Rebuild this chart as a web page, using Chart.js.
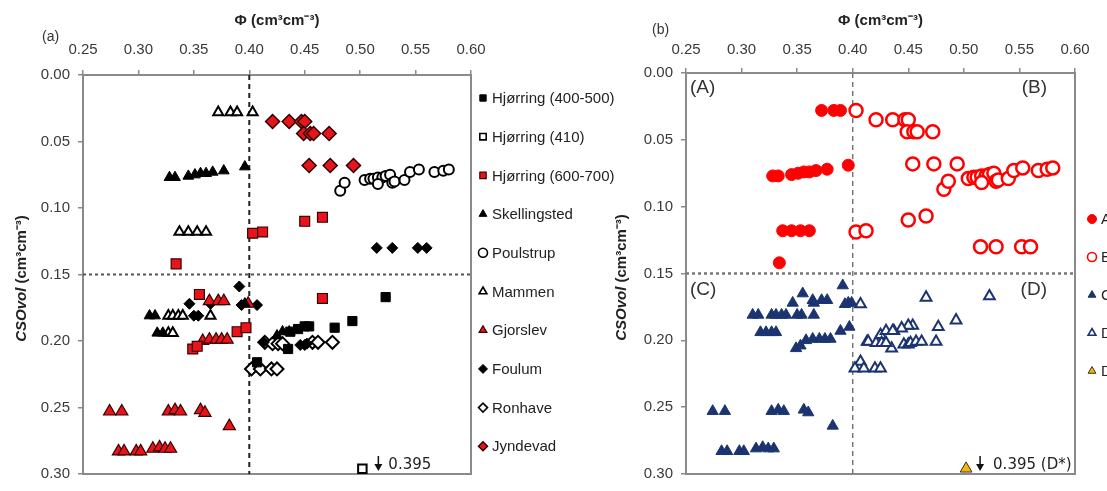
<!DOCTYPE html>
<html>
<head>
<meta charset="utf-8">
<script src="https://cdn.jsdelivr.net/npm/chart.js@4.4.0/dist/chart.umd.min.js"></script>
<style>
  html, body { margin: 0; padding: 0; background: #fff; overflow: hidden; }
  #wrap { position: relative; width: 1107px; height: 491px; }
  #left { position: absolute; left: 0; top: 0; }
  #right { position: absolute; left: 600px; top: 0; }
</style>
</head>
<body>
<div id="wrap">
  <canvas id="left" width="620" height="491"></canvas>
  <canvas id="right" width="507" height="491"></canvas>
</div>
<script>
// Axis ticks
const PHI_TICKS = [0.25, 0.30, 0.35, 0.40, 0.45, 0.50, 0.55, 0.60];
const CSO_TICKS = [0.00, 0.05, 0.10, 0.15, 0.20, 0.25, 0.30];
const PHI_SPLIT = 0.40;   // threshold lines
const CSO_SPLIT = 0.15;
const CSO_CLAMP = 0.296;  // off-scale values sit on the bottom axis

// [porosity, CSOvol] per site
const hjorring400 = [[0.523, 0.167], [0.493, 0.185], [0.477, 0.190], [0.454, 0.189], [0.450, 0.189],
  [0.444, 0.191], [0.437, 0.193], [0.435, 0.206], [0.407, 0.216]];
const hjorring410 = [[0.502, 0.395]];
const hjorring600 = [[0.334, 0.142], [0.403, 0.119], [0.412, 0.118], [0.450, 0.110], [0.466, 0.107],
  [0.355, 0.165], [0.466, 0.168], [0.389, 0.193], [0.397, 0.190], [0.349, 0.206], [0.353, 0.204]];
const skellingsted = [[0.328, 0.077], [0.333, 0.077], [0.345, 0.076], [0.351, 0.075], [0.356, 0.074],
  [0.361, 0.074], [0.367, 0.073], [0.377, 0.072], [0.396, 0.069], [0.310, 0.181], [0.315, 0.181],
  [0.317, 0.194], [0.322, 0.194], [0.396, 0.172], [0.425, 0.196], [0.430, 0.193], [0.436, 0.193]];
const poulstrup = [[0.482, 0.087], [0.486, 0.081], [0.504, 0.079], [0.509, 0.078], [0.512, 0.078],
  [0.516, 0.077], [0.520, 0.077], [0.523, 0.076], [0.527, 0.075], [0.516, 0.082], [0.529, 0.081],
  [0.531, 0.080], [0.540, 0.079], [0.545, 0.073], [0.553, 0.071], [0.567, 0.073], [0.575, 0.072],
  [0.580, 0.071]];
const mammen = [[0.372, 0.028], [0.383, 0.028], [0.389, 0.028], [0.403, 0.028], [0.337, 0.118],
  [0.345, 0.118], [0.353, 0.118], [0.361, 0.118], [0.327, 0.181], [0.331, 0.181], [0.336, 0.181],
  [0.340, 0.181], [0.365, 0.181], [0.327, 0.194], [0.331, 0.194]];
const gjorslev = [[0.364, 0.170], [0.372, 0.170], [0.377, 0.170], [0.399, 0.172], [0.358, 0.200],
  [0.364, 0.199], [0.370, 0.199], [0.375, 0.199], [0.380, 0.199], [0.274, 0.253], [0.285, 0.253],
  [0.327, 0.253], [0.333, 0.252], [0.338, 0.253], [0.356, 0.252], [0.360, 0.254], [0.382, 0.264],
  [0.282, 0.283], [0.287, 0.283], [0.298, 0.283], [0.302, 0.283], [0.313, 0.281], [0.319, 0.280],
  [0.324, 0.281], [0.329, 0.281]];
const foulum = [[0.515, 0.130], [0.529, 0.130], [0.552, 0.130], [0.560, 0.130], [0.391, 0.159],
  [0.346, 0.172], [0.365, 0.172], [0.393, 0.173], [0.407, 0.173], [0.350, 0.181], [0.354, 0.181],
  [0.413, 0.201], [0.446, 0.203], [0.450, 0.203], [0.452, 0.202]];
const ronhave = [[0.414, 0.201], [0.421, 0.202], [0.426, 0.202], [0.430, 0.202], [0.457, 0.201],
  [0.462, 0.201], [0.475, 0.201], [0.402, 0.221], [0.410, 0.221], [0.420, 0.221], [0.425, 0.221]];
const jyndevad = [[0.421, 0.035], [0.436, 0.035], [0.447, 0.035], [0.450, 0.035], [0.449, 0.044],
  [0.455, 0.044], [0.458, 0.044], [0.472, 0.044], [0.454, 0.068], [0.473, 0.068], [0.494, 0.068]];

const SITE_LABELS = ['Hjørring (400-500)', 'Hjørring (410)', 'Hjørring (600-700)', 'Skellingsted',
  'Poulstrup', 'Mammen', 'Gjorslev', 'Foulum', 'Ronhave', 'Jyndevad'];
const SITE_DATA = [hjorring400, hjorring410, hjorring600, skellingsted, poulstrup, mammen,
  gjorslev, foulum, ronhave, jyndevad];

// Pooled points split into the four quadrants
const pooled = [].concat(...SITE_DATA);
const onScale = pooled.filter(p => p[1] <= CSO_TICKS[CSO_TICKS.length - 1]);
const groupA = onScale.filter(p => p[0] < PHI_SPLIT && p[1] < CSO_SPLIT);
const groupB = onScale.filter(p => p[0] >= PHI_SPLIT && p[1] < CSO_SPLIT);
const groupC = onScale.filter(p => p[0] < PHI_SPLIT && p[1] >= CSO_SPLIT);
const groupD = onScale.filter(p => p[0] >= PHI_SPLIT && p[1] >= CSO_SPLIT);
const groupDStar = pooled.filter(p => p[1] > CSO_TICKS[CSO_TICKS.length - 1]);

const RED = '#ff0000';
const NAVY = '#1b3471';
const FONT = "'Liberation Sans', Arial, sans-serif";
Chart.defaults.font.family = FONT;

const toXY = pts => pts.map(([x, y]) => ({ x: x, y: Math.min(y, CSO_CLAMP), raw: y }));

const SITE_STYLES = [
  { pointStyle: 'rect', radius: 6.5, bg: '#000', border: '#000', bw: 1 },
  { pointStyle: 'rect', radius: 6, bg: '#fff', border: '#000', bw: 2 },
  { pointStyle: 'rect', radius: 7, bg: '#e8141b', border: '#3a0000', bw: 1.2 },
  { pointStyle: 'triangle', radius: 6.2, bg: '#000', border: '#000', bw: 1 },
  { pointStyle: 'circle', radius: 5, bg: '#fff', border: '#000', bw: 2 },
  { pointStyle: 'triangle', radius: 5.8, bg: '#fff', border: '#000', bw: 2 },
  { pointStyle: 'triangle', radius: 7, bg: '#e8141b', border: '#3a0000', bw: 1.2 },
  { pointStyle: 'rectRot', radius: 5.5, bg: '#000', border: '#000', bw: 1 },
  { pointStyle: 'rectRot', radius: 6.5, bg: '#fff', border: '#000', bw: 2 },
  { pointStyle: 'rectRot', radius: 7, bg: '#e8141b', border: '#2a0000', bw: 1.5 }
];

function pointSet(label, pts, st, extra) {
  return Object.assign({
    label: label,
    data: toXY(pts),
    pointStyle: st.pointStyle,
    pointRadius: st.radius,
    pointHoverRadius: st.radius,
    pointBackgroundColor: st.bg,
    pointBorderColor: st.border,
    pointBorderWidth: st.bw,
    backgroundColor: st.bg,
    borderColor: st.border,
    showLine: false,
    clip: false,
    order: 1
  }, extra || {});
}

function guideLines(vColor, vDash, vWidth, hColor, hDash, hWidth) {
  const yMin = CSO_TICKS[0], yMax = CSO_TICKS[CSO_TICKS.length - 1];
  const xMin = PHI_TICKS[0], xMax = PHI_TICKS[PHI_TICKS.length - 1];
  return [
    { guide: true, data: [{ x: PHI_SPLIT, y: yMin }, { x: PHI_SPLIT, y: yMax }], showLine: true,
      borderColor: vColor, borderDash: vDash, borderWidth: vWidth, pointRadius: 0, order: 10 },
    { guide: true, data: [{ x: xMin, y: CSO_SPLIT }, { x: xMax, y: CSO_SPLIT }], showLine: true,
      borderColor: hColor, borderDash: hDash, borderWidth: hWidth, pointRadius: 0, order: 10 }
  ];
}

function makeScales(axisHeight, axisWidth, xPad) {
  const axisGrey = '#8a8a8a';
  return {
    x: {
      type: 'linear', position: 'top',
      min: PHI_TICKS[0], max: PHI_TICKS[PHI_TICKS.length - 1],
      afterBuildTicks: s => { s.ticks = PHI_TICKS.map(v => ({ value: v })); },
      afterFit: s => { s.height = axisHeight; },
      ticks: { color: '#3a3a3a', font: { size: 15 }, padding: xPad, maxRotation: 0, autoSkip: false,
        callback: v => v.toFixed(2) },
      grid: { drawOnChartArea: false, tickLength: 5, color: axisGrey, lineWidth: 1.5 },
      border: { color: axisGrey, width: 2 },
      title: { display: true, text: 'Φ (cm³cm⁻³)', color: '#222',
        font: { size: 15, weight: 'bold' }, padding: { top: 12, bottom: 0 } }
    },
    y: {
      type: 'linear', position: 'left', reverse: true,
      min: CSO_TICKS[0], max: CSO_TICKS[CSO_TICKS.length - 1],
      afterBuildTicks: s => { s.ticks = CSO_TICKS.map(v => ({ value: v })); },
      afterFit: s => { s.width = axisWidth; },
      ticks: { color: '#3a3a3a', font: { size: 15 }, padding: 8, autoSkip: false,
        callback: v => v.toFixed(2) },
      grid: { drawOnChartArea: false, tickLength: 5, color: axisGrey, lineWidth: 1.5 },
      border: { color: axisGrey, width: 2 }
    }
  };
}

// Plot frame, rotated y title, legend and text annotations
const decorations = {
  id: 'decorations',
  beforeDatasetsDraw(chart) {
    const a = chart.chartArea, ctx = chart.ctx;
    ctx.save();
    ctx.strokeStyle = '#8a8a8a';
    ctx.lineWidth = 2;
    ctx.strokeRect(a.left, a.top, a.right - a.left, a.bottom - a.top);
    ctx.restore();
  },
  afterDraw(chart, args, opts) {
    const ctx = chart.ctx, a = chart.chartArea;
    const xs = chart.scales.x, ys = chart.scales.y;
    ctx.save();

    // y title: italic variable name + unit
    ctx.translate(opts.yTitleX, (a.top + a.bottom) / 2 + 4);
    ctx.rotate(-Math.PI / 2);
    ctx.fillStyle = '#222';
    ctx.textBaseline = 'middle';
    const f1 = "italic bold 15px " + FONT, f2 = "bold 15px " + FONT;
    ctx.font = f1; const w1 = ctx.measureText('CSOvol').width;
    ctx.font = f2; const w2 = ctx.measureText(' (cm³cm⁻³)').width;
    ctx.font = f1; ctx.textAlign = 'left';
    ctx.fillText('CSOvol', -(w1 + w2) / 2, 0);
    ctx.font = f2;
    ctx.fillText(' (cm³cm⁻³)', -(w1 + w2) / 2 + w1, 0);
    ctx.setTransform(1, 0, 0, 1, 0, 0);

    // panel tag
    ctx.font = '14px ' + FONT;
    ctx.fillStyle = '#333';
    ctx.textAlign = 'left';
    ctx.textBaseline = 'middle';
    ctx.fillText(opts.panel.text, opts.panel.x, opts.panel.y);

    // quadrant tags
    if (opts.quadrants) {
      ctx.font = '19px ' + FONT;
      ctx.fillStyle = '#333';
      const ySplit = ys.getPixelForValue(CSO_SPLIT);
      ctx.textAlign = 'left';
      ctx.fillText('(A)', a.left + 4, a.top + 15);
      ctx.fillText('(C)', a.left + 4, ySplit + 16);
      ctx.textAlign = 'right';
      ctx.fillText('(B)', a.right - 28, a.top + 15);
      ctx.fillText('(D)', a.right - 28, ySplit + 16);
    }

    // legend
    const H = Chart.helpers;
    const items = chart.data.datasets.filter(d => !d.guide);
    ctx.font = '15px ' + FONT;
    ctx.textAlign = 'left';
    ctx.textBaseline = 'middle';
    items.forEach((d, i) => {
      const y = opts.legend.top + i * opts.legend.step;
      ctx.fillStyle = d.pointBackgroundColor;
      ctx.strokeStyle = d.pointBorderColor;
      ctx.lineWidth = Math.min(d.pointBorderWidth, 1.6);
      H.drawPoint(ctx, { pointStyle: d.pointStyle, radius: opts.legend.radius, rotation: 0,
        borderWidth: ctx.lineWidth }, opts.legend.x, y);
      ctx.fillStyle = '#222';
      ctx.fillText(d.label, opts.legend.x + 9, y + 1);
    });

    // off-scale markers: arrow + actual value
    chart.data.datasets.forEach(d => {
      if (!d.offScale) return;
      d.data.forEach(p => {
        const px = xs.getPixelForValue(p.x);
        const ax = px + opts.arrowDx;
        const y0 = a.bottom - 18, y1 = a.bottom - 3;
        ctx.strokeStyle = '#111';
        ctx.fillStyle = '#111';
        ctx.lineWidth = 1.5;
        ctx.beginPath(); ctx.moveTo(ax, y0); ctx.lineTo(ax, y1 - 5); ctx.stroke();
        ctx.beginPath(); ctx.moveTo(ax - 4, y1 - 7); ctx.lineTo(ax + 4, y1 - 7); ctx.lineTo(ax, y1); ctx.closePath(); ctx.fill();
        ctx.font = "15px 'DejaVu Sans', sans-serif";
        ctx.textAlign = 'left';
        ctx.fillStyle = '#222';
        ctx.fillText(p.raw.toFixed(3) + (d.offScaleSuffix || ''), px + opts.textDx, a.bottom - 9);
      });
    });
    ctx.restore();
  }
};

const leftSets = SITE_LABELS.map((lab, i) => pointSet(lab, SITE_DATA[i], SITE_STYLES[i],
  SITE_DATA[i] === hjorring410 ? { offScale: true } : {}));

new Chart(document.getElementById('left'), {
  type: 'scatter',
  data: { datasets: leftSets.concat(guideLines('#222', [5, 4], 2, '#555', [3, 3], 2)) },
  options: {
    responsive: false, animation: false,
    layout: { padding: { left: 0, right: 149, top: 0, bottom: 11 } },
    scales: makeScales(75, 83, 11),
    plugins: {
      legend: { display: false }, tooltip: { enabled: false },
      decorations: {
        yTitleX: 22,
        panel: { text: '(a)', x: 42, y: 37 },
        legend: { x: 483, top: 98, step: 38.7, radius: 4.5 },
        arrowDx: 16, textDx: 26
      }
    }
  },
  plugins: [decorations]
});

const rightSets = [
  pointSet('A', groupA, { pointStyle: 'circle', radius: 6, bg: RED, border: RED, bw: 1 }),
  pointSet('B', groupB, { pointStyle: 'circle', radius: 6.5, bg: '#fff', border: RED, bw: 2.5 }),
  pointSet('C', groupC, { pointStyle: 'triangle', radius: 6.5, bg: NAVY, border: NAVY, bw: 1 }),
  pointSet('D', groupD, { pointStyle: 'triangle', radius: 6.2, bg: '#fff', border: NAVY, bw: 2 }),
  pointSet('D*', groupDStar, { pointStyle: 'triangle', radius: 6.8, bg: '#f2b705', border: '#333', bw: 1 },
    { offScale: true, offScaleSuffix: ' (D*)' })
];

new Chart(document.getElementById('right'), {
  type: 'scatter',
  data: { datasets: rightSets.concat(guideLines('#777', [5, 4], 1.5, '#777', [3, 3], 2.5)) },
  options: {
    responsive: false, animation: false,
    layout: { padding: { left: 0, right: 32, top: 0, bottom: 10 } },
    scales: makeScales(73, 86, 9),
    plugins: {
      legend: { display: false }, tooltip: { enabled: false },
      decorations: {
        yTitleX: 22,
        panel: { text: '(b)', x: 52, y: 30 },
        quadrants: true,
        legend: { x: 492, top: 219, step: 38, radius: 4.5 },
        arrowDx: 14, textDx: 27
      }
    }
  },
  plugins: [decorations]
});
</script>
</body>
</html>
